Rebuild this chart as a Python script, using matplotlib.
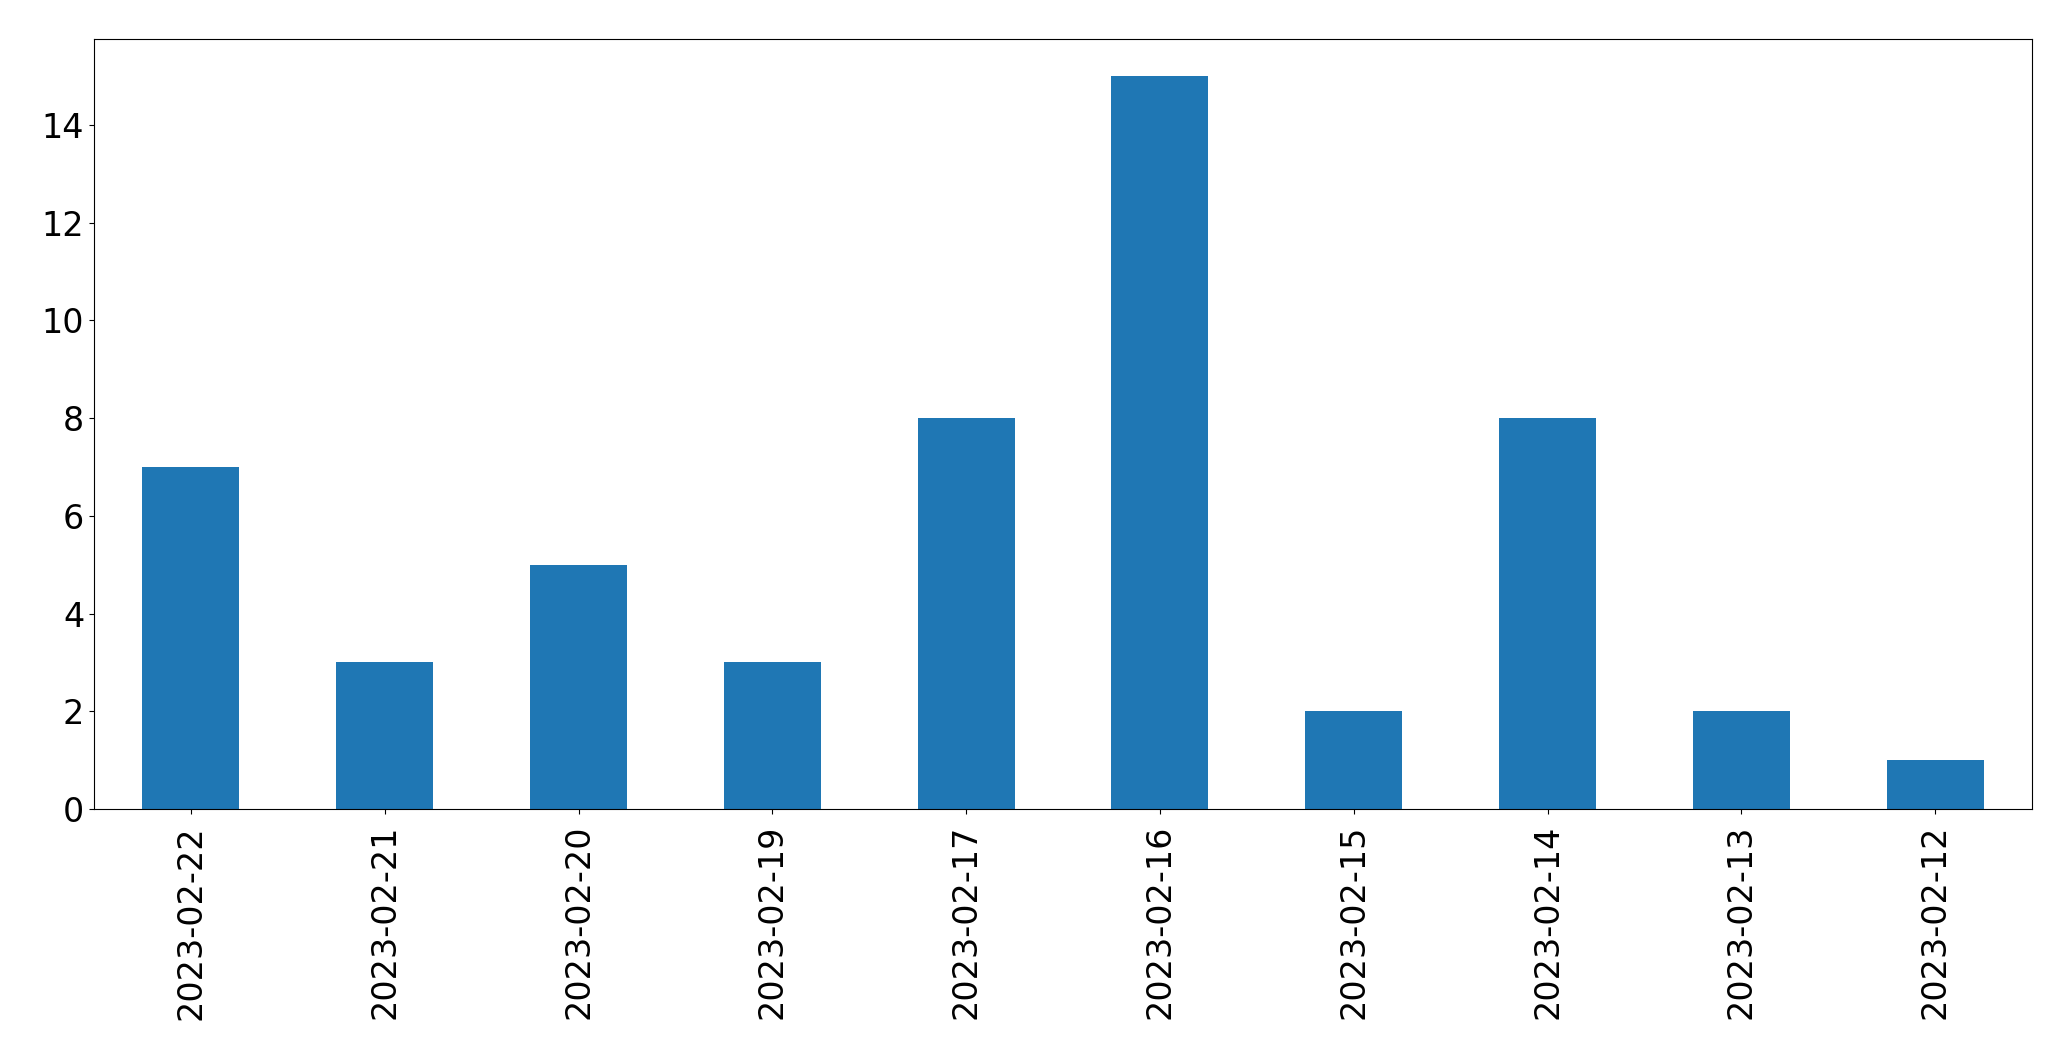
import matplotlib
matplotlib.use('Agg')
import matplotlib.pyplot as plt
import pandas as pd

dates = ['2023-02-22', '2023-02-21', '2023-02-20', '2023-02-19', '2023-02-17',
         '2023-02-16', '2023-02-15', '2023-02-14', '2023-02-13', '2023-02-12']
counts = [7, 3, 5, 3, 8, 15, 2, 8, 2, 1]

s = pd.Series(counts, index=dates)

fig, ax = plt.subplots(figsize=(20.71, 10.61), dpi=100)
s.plot(kind='bar', ax=ax, color='#1f77b4')
ax.tick_params(axis='both', labelsize=24)
ax.tick_params(axis='x', pad=8)
plt.subplots_adjust(left=0.0454, right=0.9812, top=0.963, bottom=0.2375)
fig.savefig('out.png', dpi=100)
